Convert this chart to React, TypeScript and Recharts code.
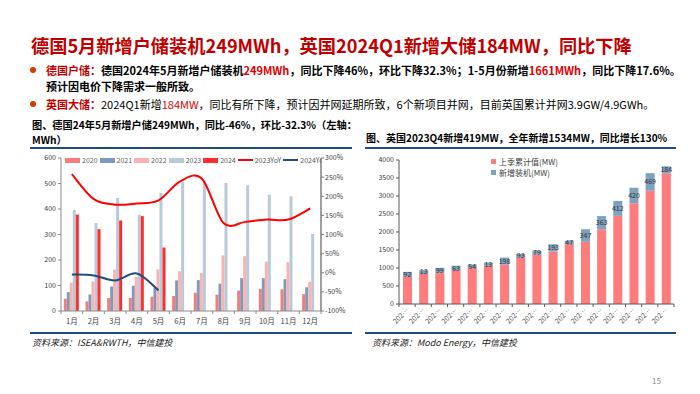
import React from 'react';
import { ComposedChart, BarChart, Bar, Line, XAxis, YAxis, Legend, LabelList } from 'recharts';

// ---------- Left chart data (Germany home storage, MWh) ----------
const months = ['1月', '2月', '3月', '4月', '5月', '6月', '7月', '8月', '9月', '10月', '11月', '12月'];
const de2020 = [48, 38, 51, 51, 56, 59, 72, 64, 80, 87, 85, 66];
const de2021 = [74, 65, 96, 99, 90, 120, 121, 107, 129, 129, 125, 93];
const de2022 = [111, 116, 162, 134, 163, 156, 149, 218, 215, 194, 192, 115];
const de2023 = [396, 345, 443, 378, 463, 505, 512, 502, 493, 456, 450, 302];
const de2024 = [378, 321, 355, 372, 249];
const yoy2023 = [258, 193, 178, 181, 189, 239, 246, 130, 133, 139, 139, 168];
const yoy2024 = [-4.5, -7, -20, -2, -46];
const leftTicks = [0, 100, 200, 300, 400, 500, 600];
const rightTicks = [-100, -50, 0, 50, 100, 150, 200, 250, 300];
const leftLegendOrder = ['2020', '2021', '2022', '2023', '2024', '2023YoY', '2024YoY'];

// ---------- Right chart data (UK grid storage, MW) ----------
const quarters = ['2020Q1', '2020Q2', '2020Q3', '2020Q4', '2021Q1', '2021Q2', '2021Q3', '2021Q4', '2022Q1', '2022Q2', '2022Q3', '2022Q4', '2023Q1', '2023Q2', '2023Q3', '2023Q4', '2024Q1'];
const ukBase = [767, 840, 859, 933, 998, 1062, 1090, 1293, 1367, 1460, 1663, 1727, 2078, 2448, 2799, 3150, 3630];
const ukNew = [125, 100, 145, 130, 100, 85, 200, 95, 110, 200, 95, 350, 365, 415, 430, 485, 195];
const ukNewLabels = ['92', '13', '99', '63', '54', '13', '198', '93', '79', '193', '47', '347', '363', '412', '420', '469', '184'];
const ukTicks = [0, 500, 1000, 1500, 2000, 2500, 3000, 3500, 4000];

const FONT = "'Noto Sans CJK SC', 'Noto Sans', sans-serif";
const RED = '#c00000';
const HL = '#e00000';
const NAVY = '#1f4e79';

const leftData = months.map((m, i) => ({
  month: m,
  y2020: de2020[i],
  y2021: de2021[i],
  y2022: de2022[i],
  y2023: de2023[i],
  y2024: de2024[i] ?? null,
  yoy2023: yoy2023[i],
  yoy2024: yoy2024[i] ?? null,
}));

const rightData = quarters.map((q, i) => ({ q, base: ukBase[i], add: ukNew[i], label: ukNewLabels[i] }));

// Excel-like smoothed line (Catmull-Rom style bezier)
function excelCurve(context: any) {
  let pts: number[][] = [];
  return {
    areaStart() {},
    areaEnd() {},
    lineStart() {
      pts = [];
    },
    point(x: number, y: number) {
      pts.push([+x, +y]);
    },
    lineEnd() {
      if (!pts.length) return;
      context.moveTo(pts[0][0], pts[0][1]);
      for (let i = 0; i < pts.length - 1; i++) {
        const p0 = pts[i - 1] || pts[i];
        const p1 = pts[i];
        const p2 = pts[i + 1];
        const p3 = pts[i + 2] || p2;
        context.bezierCurveTo(
          p1[0] + (p2[0] - p0[0]) / 6,
          p1[1] + (p2[1] - p0[1]) / 6,
          p2[0] - (p3[0] - p1[0]) / 6,
          p2[1] - (p3[1] - p1[1]) / 6,
          p2[0],
          p2[1]
        );
      }
    },
  };
}

const AXIS = '#8c8c8c';
const TICKTXT = '#404040';

const MonthTick = (props: any) => {
  const { x, y, payload, index, visibleTicksCount } = props;
  const half = payload.offset ?? 0;
  const last = index === visibleTicksCount - 1;
  return (
    <g>
      <line x1={x - half} x2={x - half} y1={y - 5} y2={y - 2} stroke={AXIS} />
      {last && <line x1={x + half} x2={x + half} y1={y - 5} y2={y - 2} stroke={AXIS} />}
      <text x={x} y={y} dy={8} textAnchor="middle" fontSize={7.5} fill={TICKTXT} fontFamily={FONT}>
        {payload.value}
      </text>
    </g>
  );
};

const QuarterTick = (props: any) => {
  const { x, y, payload, index, visibleTicksCount } = props;
  const half = payload.offset ?? 0;
  const last = index === visibleTicksCount - 1;
  const txt = String(payload.value).slice(0, 3) + '…';
  return (
    <g>
      <line x1={x - half} x2={x - half} y1={y - 5} y2={y - 2} stroke="#595959" />
      {last && <line x1={x + half} x2={x + half} y1={y - 5} y2={y - 2} stroke="#595959" />}
      <text x={x + 2} y={y + 2} textAnchor="end" fontSize={7} fill="#595959" fontFamily={FONT} transform={`rotate(-45 ${x + 2} ${y + 2})`}>
        {txt}
      </text>
    </g>
  );
};

const LeftLegend = (props: any) => {
  const payload = [...(props.payload || [])].sort(
    (a: any, b: any) => leftLegendOrder.indexOf(String(a.value)) - leftLegendOrder.indexOf(String(b.value))
  );
  return (
    <div style={{ display: 'flex', width: 256, overflow: 'hidden', whiteSpace: 'nowrap', fontSize: 7, color: '#595959', lineHeight: '8px', fontFamily: FONT }}>
      {payload.map((p: any) => (
        <div key={p.value} style={{ display: 'flex', alignItems: 'center', marginRight: 2, flexShrink: 0 }}>
          <span style={{ display: 'inline-block', width: 15, height: p.type === 'line' ? 2 : 5, background: p.color, marginRight: 2 }} />
          <span>{p.value}</span>
        </div>
      ))}
    </div>
  );
};

const RightLegend = (props: any) => {
  const payload = props.payload || [];
  return (
    <div style={{ fontSize: 8, color: '#404040', lineHeight: '11px', fontFamily: FONT }}>
      {payload.map((p: any) => (
        <div key={p.value} style={{ display: 'flex', alignItems: 'center' }}>
          <span style={{ display: 'inline-block', width: 5, height: 5, background: p.color, marginRight: 3 }} />
          <span>{p.value}</span>
        </div>
      ))}
    </div>
  );
};

const abs = (l: number, t: number, extra: React.CSSProperties = {}): React.CSSProperties => ({ position: 'absolute', left: l, top: t, ...extra });

export default function App() {
  return (
    <div style={{ position: 'absolute', left: 0, top: 0, width: 700, height: 394, background: '#fff', overflow: 'hidden', fontFamily: FONT, color: '#000' }}>
      {/* Title */}
      <div style={abs(31, 33, { fontSize: 18.2, lineHeight: '24px', color: RED, fontWeight: 700, whiteSpace: 'nowrap' })}>
        德国5月新增户储装机249MWh，英国2024Q1新增大储184MW，同比下降
      </div>

      {/* Bullets */}
      <div style={abs(30, 67, { width: 6, height: 6, borderRadius: 3, background: '#d83b01' })} />
      <div style={abs(46, 62, { fontSize: 11, lineHeight: '16px', fontWeight: 700, whiteSpace: 'nowrap' })}>
        <span style={{ color: RED }}>德国户储：</span>德国2024年5月新增户储装机<span style={{ color: HL }}>249MWh</span>，同比下降46%，环比下降32.3%；1-5月份新增<span style={{ color: HL }}>1661MWh</span>，同比下降17.6%。
      </div>
      <div style={abs(46, 78, { fontSize: 11, lineHeight: '16px', fontWeight: 700, whiteSpace: 'nowrap' })}>预计因电价下降需求一般所致。</div>
      <div style={abs(30, 101, { width: 6, height: 6, borderRadius: 3, background: '#d83b01' })} />
      <div style={abs(46, 96, { fontSize: 11, lineHeight: '16px', whiteSpace: 'nowrap' })}>
        <span style={{ color: RED, fontWeight: 700 }}>英国大储：</span>2024Q1新增<span style={{ color: HL }}>184MW</span>，同比有所下降，预计因并网延期所致，6个新项目并网，目前英国累计并网3.9GW/4.9GWh。
      </div>

      {/* Left chart title */}
      <div style={abs(32, 117, { fontSize: 10.2, lineHeight: '15px', fontWeight: 700, whiteSpace: 'nowrap' })}>图、德国24年5月新增户储249MWh，同比-46%，环比-32.3%（左轴：</div>
      <div style={abs(32, 132, { fontSize: 10.2, lineHeight: '15px', fontWeight: 700, whiteSpace: 'nowrap' })}>MWh）</div>
      <div style={abs(30, 147, { width: 322, height: 2, background: NAVY })} />

      {/* Right chart title */}
      <div style={abs(366, 130, { fontSize: 10, lineHeight: '15px', fontWeight: 700, whiteSpace: 'nowrap' })}>图、英国2023Q4新增419MW，全年新增1534MW，同比增长130%</div>
      <div style={abs(365, 147, { width: 311, height: 2, background: NAVY })} />

      {/* Left chart */}
      <div style={abs(20, 150)}>
        <ComposedChart width={331} height={185} data={leftData} margin={{ top: 8, right: 0, bottom: 4, left: 0 }} barCategoryGap="13%" barGap={0}>
          <XAxis dataKey="month" height={20} tickLine={false} tickSize={3} tickMargin={2} axisLine={{ stroke: AXIS }} tick={<MonthTick />} interval={0} />
          <YAxis yAxisId="left" width={41} domain={[0, 600]} ticks={leftTicks} tick={{ fontSize: 7, fill: TICKTXT, fontFamily: FONT }} axisLine={{ stroke: AXIS }} tickLine={{ stroke: AXIS }} tickSize={3} tickMargin={2} />
          <YAxis yAxisId="right" orientation="right" width={30} domain={[-100, 300]} ticks={rightTicks} tickFormatter={(v: number) => `${v}%`} tick={{ fontSize: 7, fill: TICKTXT, fontFamily: FONT }} axisLine={{ stroke: '#7f7f7f', strokeWidth: 1.5 }} tickLine={{ stroke: '#7f7f7f' }} tickSize={3} tickMargin={1} />
          <Legend layout="horizontal" verticalAlign="middle" align="center" content={<LeftLegend />} wrapperStyle={{ left: 45, top: 6, width: 256, height: 8 }} />
          <Bar yAxisId="left" dataKey="y2020" name="2020" fill="#f47c7c" isAnimationActive={false} />
          <Bar yAxisId="left" dataKey="y2021" name="2021" fill="#7e9cb7" isAnimationActive={false} />
          <Bar yAxisId="left" dataKey="y2022" name="2022" fill="#fdb2b2" isAnimationActive={false} />
          <Bar yAxisId="left" dataKey="y2023" name="2023" fill="#b8cad9" isAnimationActive={false} />
          <Bar yAxisId="left" dataKey="y2024" name="2024" fill="#ff2d2d" isAnimationActive={false} />
          <Line yAxisId="right" dataKey="yoy2023" name="2023YoY" stroke="#ff0000" strokeWidth={2} dot={false} type={excelCurve as any} isAnimationActive={false} />
          <Line yAxisId="right" dataKey="yoy2024" name="2024YoY" stroke={NAVY} strokeWidth={2} dot={false} type={excelCurve as any} isAnimationActive={false} />
        </ComposedChart>
      </div>

      {/* Right chart */}
      <div style={abs(360, 150)}>
        <BarChart width={320} height={179} data={rightData} margin={{ top: 10, right: 6, bottom: 0, left: 0 }}>
          <XAxis dataKey="q" height={25} tickLine={false} tickSize={3} tickMargin={2} axisLine={{ stroke: '#595959' }} tick={<QuarterTick />} interval={0} />
          <YAxis width={39} domain={[0, 4000]} ticks={ukTicks} tick={{ fontSize: 7, fill: TICKTXT, fontFamily: FONT }} axisLine={{ stroke: '#595959' }} tickLine={{ stroke: '#595959' }} tickSize={3} tickMargin={2} />
          <Legend layout="horizontal" verticalAlign="middle" align="center" content={<RightLegend />} wrapperStyle={{ left: 131, top: 6, width: 120, height: 22 }} />
          <Bar dataKey="base" name="上季累计值(MW)" stackId="a" fill="#ff7c7c" barSize={9} isAnimationActive={false} />
          <Bar dataKey="add" name="新增装机(MW)" stackId="a" fill="#7fa2c0" barSize={9} isAnimationActive={false}>
            <LabelList dataKey="label" position="center" fontSize={7} fill="#333" fontFamily={FONT} />
          </Bar>
        </BarChart>
      </div>

      {/* Bottom rules and sources */}
      <div style={abs(30, 332, { width: 322, height: 2, background: NAVY })} />
      <div style={abs(365, 332, { width: 311, height: 2, background: NAVY })} />
      <div style={abs(32, 337, { fontSize: 9, lineHeight: '12px', fontStyle: 'italic', color: '#222', whiteSpace: 'nowrap' })}>资料来源：ISEA&amp;RWTH，中信建投</div>
      <div style={abs(372, 337, { fontSize: 9, lineHeight: '12px', fontStyle: 'italic', color: '#222', whiteSpace: 'nowrap' })}>资料来源：Modo Energy，中信建投</div>

      <div style={abs(652, 375, { fontSize: 8, lineHeight: '12px', color: '#8c8c8c' })}>15</div>
    </div>
  );
}
